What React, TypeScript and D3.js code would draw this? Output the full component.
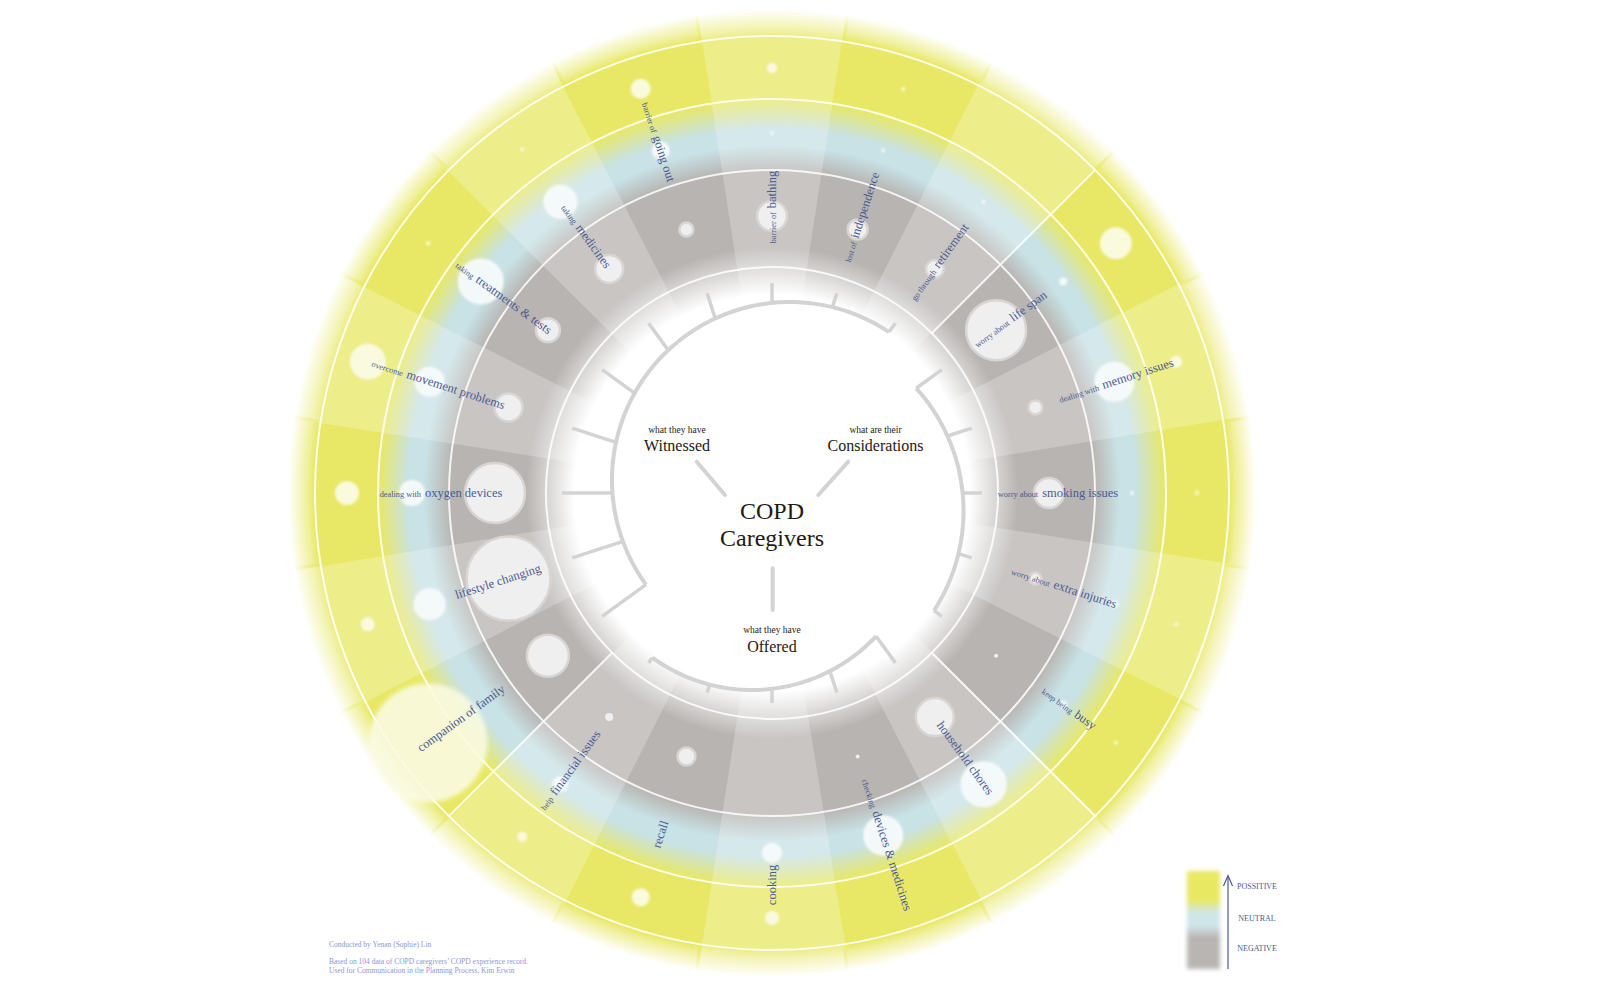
import React from 'react';
import * as d3 from 'd3';

// ---------- DATA ----------
const TOPICS = ['bathing', 'independence', 'retirement', 'life span', 'memory issues', 'smoking issues', 'extra injuries', 'busy', 'household chores', 'devices & medicines', 'cooking', 'recall', 'financial issues', 'companion of family', 'lifestyle changing', 'oxygen devices', 'movement problems', 'treatments & tests', 'medicines', 'going out'];
const PREFIXES = ['barrier of', 'lost of', 'go through', 'worry about', 'dealing with', 'worry about', 'worry about', 'keep being', '', 'checking', '', '', 'help', '', '', 'dealing with', 'overcome', 'taking', 'taking', 'barrier of'];
const NEGATIVE = [7.5, 5, 4.5, 15, 3.5, 7.5, 3, 1, 9.5, 1, 0, 4.5, 2, 10.5, 21, 15, 7, 6, 7, 3.5];
const NEUTRAL = [1, 1, 1, 2, 9.5, 1, 2, 2, 11, 9.5, 4.5, 0, 3.5, 0, 7.5, 6, 7, 11, 8, 4];
const POSITIVE = [2.5, 1, 0, 8, 3, 1, 1, 1, 0, 1, 3.5, 4.5, 2.5, 29, 3.5, 6, 9, 1, 1, 5];
const SENTIMENTS = ['POSSITIVE', 'NEUTRAL', 'NEGATIVE'];
const GROUP_NAMES = ['Witnessed', 'Considerations', 'Offered'];
const GROUP_LEADS = ['what they have', 'what are their', 'what they have'];
const GROUP_FIRST = [13, 3, 8];
const GROUP_LAST = [2, 7, 12];
const TITLE = ['COPD', 'Caregivers'];
const CREDITS = [
  'Conducted by Yenan (Sophie) Lin',
  'Based on 104 data of COPD caregivers\u2019 COPD experience record.',
  'Used for Communication in the Planning Process, Kim Erwin',
];

// ---------- LAYOUT / STYLE ----------
const W = 1600, H = 1002, CX = 772, CY = 493;
const RING_LINES = [226, 323, 394, 457];
const BAND_R = { neg: 277, neu: 360, pos: 425 };
const OUTER = 492;
const LABEL_R = [286, 290, 285, 295, 362, 286, 307, 367, 328, 370, 392, 359, 343, 384, 288, 331, 351, 332, 317, 369];
const GROUP_ARC = [
  { dx: 18, dy: -13, r: 178 },
  { dx: 8.5, dy: 18, r: 183 },
  { dx: -20, dy: 27, r: 170 },
];
const GROUP_TEXT = [
  { x: -95, y: -42 },
  { x: 103.5, y: -42 },
  { x: 0, y: 158.7 },
];
const CONNECTORS = [
  [[-75.3, -31.3], [-47, 2]],
  [[76.3, -31.3], [46.3, 2]],
  [[0.7, 75.3], [0.7, 117]],
];
const SEPARATORS = [45, 135, 225];
const FONT = '"Liberation Serif", "DejaVu Serif", serif';
const LABEL_COLOR = '#4a5a92';
const DARK = '#231815';

const PALETTE = {
  light: { gray: '#c8c5c3', blue: '#d5e8eb', yellow: '#eded8a' },
  dark: { gray: '#b8b4b1', blue: '#c8e2e5', yellow: '#e8e866' },
};

const N = TOPICS.length;
const angleScale = d3.scaleLinear().domain([0, N]).range([0, 360]);
const sizeScale = d3.scaleLinear().domain([0, 29]).range([0, 58]);
const rad = (deg: number) => (deg * Math.PI) / 180;
const polar = (deg: number, r: number): [number, number] => [CX + r * Math.sin(rad(deg)), CY - r * Math.cos(rad(deg))];

function arcRadius(deg: number, g: { dx: number; dy: number; r: number }) {
  const ux = Math.sin(rad(deg)), uy = -Math.cos(rad(deg));
  const b = ux * g.dx + uy * g.dy;
  return b + Math.sqrt(b * b - (g.dx * g.dx + g.dy * g.dy) + g.r * g.r);
}

function gradStops(c: { gray: string; blue: string; yellow: string }) {
  const s: [number, string, number][] = [
    [0, '#ffffff', 1], [198, '#ffffff', 1], [246, c.gray, 1], [322, c.gray, 1],
    [348, c.blue, 1], [364, c.blue, 1], [394, c.yellow, 1], [458, c.yellow, 1],
    [465, c.yellow, 0.65], [484, c.yellow, 0],
  ];
  return s.map(([r, col, op], i) => <stop key={i} offset={r / OUTER} stopColor={col} stopOpacity={op} />);
}

export default function App() {
  const sectorArc = d3.arc<any>();
  const half = angleScale(1) / 2;
  const line = d3.line<[number, number]>();

  const sectors = TOPICS.map((t, i) => {
    const th = angleScale(i);
    const d = sectorArc({ innerRadius: 0, outerRadius: OUTER, startAngle: rad(th - half - 0.2), endAngle: rad(th + half + 0.2) }) as string;
    return <path key={t} d={d} fill={`url(#grad-${i % 2 === 0 ? 'light' : 'dark'})`} />;
  });

  const bubbles: React.ReactNode[] = [];
  TOPICS.forEach((t, i) => {
    const th = angleScale(i);
    const pos = POSITIVE[i], neu = NEUTRAL[i], neg = NEGATIVE[i];
    if (pos > 0) {
      const [x, y] = polar(th, BAND_R.pos);
      const r = sizeScale(pos);
      bubbles.push(<circle key={'p' + i} cx={x} cy={y} r={r} fill="#fbfbe4" fillOpacity={r > 30 ? 0.88 : 0.95}
        stroke={r > 30 ? '#fdfdf0' : 'none'} strokeWidth={3} strokeOpacity={0.6} filter={r > 30 ? 'url(#blurBig)' : 'url(#blurSmall)'} />);
    }
    if (neu > 0) {
      const [x, y] = polar(th, BAND_R.neu);
      const r = sizeScale(neu);
      bubbles.push(<circle key={'u' + i} cx={x} cy={y} r={r} fill="#f5fafb" fillOpacity={0.95} stroke="#ffffff" strokeOpacity={0.5} strokeWidth={r > 6 ? 3 : 0} filter="url(#blurSmall)" />);
    }
    if (neg > 0) {
      const [x, y] = polar(th, BAND_R.neg);
      const r = sizeScale(neg);
      bubbles.push(<circle key={'n' + i} cx={x} cy={y} r={r} fill="#f0efef" stroke={r > 4 ? '#d8d5d3' : 'none'} strokeWidth={2.5} />);
    }
  });

  const labels = TOPICS.map((t, i) => {
    const th = angleScale(i);
    const [x, y] = polar(th, LABEL_R[i]);
    const rot = th < 180 ? th - 90 : th + 90;
    return (
      <text key={'l' + i} transform={`translate(${x},${y}) rotate(${rot})`} y={3.5} textAnchor="middle" fill={LABEL_COLOR} fontFamily={FONT}>
        {PREFIXES[i] ? <tspan fontSize={8.3}>{PREFIXES[i]}</tspan> : null}
        <tspan fontSize={12.5} dx={PREFIXES[i] ? 4 : 0}>{t}</tspan>
      </text>
    );
  });

  const groupMarks = GROUP_NAMES.map((g, gi) => {
    const first = angleScale(GROUP_FIRST[gi]);
    let last = angleScale(GROUP_LAST[gi]);
    if (last < first) last += 360;
    const pts: [number, number][] = [];
    for (let a = first; a <= last + 0.001; a += 1) pts.push(polar(a, arcRadius(a, GROUP_ARC[gi])));
    const ticks: React.ReactNode[] = [];
    for (let a = first; a <= last + 0.001; a += angleScale(1)) {
      const r0 = arcRadius(a, GROUP_ARC[gi]);
      const [x0, y0] = polar(a, r0);
      const [x1, y1] = polar(a, 210);
      ticks.push(<line key={a} x1={x0} y1={y0} x2={x1} y2={y1} stroke="#d3d3d3" strokeWidth={3.5} />);
    }
    return (
      <g key={g}>
        <path d={line(pts) as string} fill="none" stroke="#d3d3d3" strokeWidth={4} strokeLinejoin="round" />
        {ticks}
      </g>
    );
  });

  return (
    <svg width={W} height={H} viewBox={`0 0 ${W} ${H}`} style={{ position: 'absolute', left: 0, top: 0, background: '#fff' }}>
      <defs>
        <radialGradient id="grad-light" gradientUnits="userSpaceOnUse" cx={0} cy={0} r={OUTER}>{gradStops(PALETTE.light)}</radialGradient>
        <radialGradient id="grad-dark" gradientUnits="userSpaceOnUse" cx={0} cy={0} r={OUTER}>{gradStops(PALETTE.dark)}</radialGradient>
        <filter id="blurSmall" x="-50%" y="-50%" width="200%" height="200%"><feGaussianBlur stdDeviation={0.9} /></filter>
        <filter id="blurBig" x="-50%" y="-50%" width="200%" height="200%"><feGaussianBlur stdDeviation={2} /></filter>
        <filter id="legendBlur" x="-50%" y="-50%" width="200%" height="200%"><feGaussianBlur stdDeviation={2.2} /></filter>
        <linearGradient id="legendGrad" x1="0" y1="0" x2="0" y2="1">
          <stop offset="0" stopColor="#e8e862" />
          <stop offset="0.3" stopColor="#e8e862" />
          <stop offset="0.42" stopColor="#cfe5e7" />
          <stop offset="0.56" stopColor="#cfe5e7" />
          <stop offset="0.68" stopColor="#b9b5b2" />
          <stop offset="1" stopColor="#b9b5b2" />
        </linearGradient>
      </defs>

      <g transform={`translate(${CX},${CY})`}>{sectors}</g>

      {RING_LINES.map((r) => (
        <circle key={r} cx={CX} cy={CY} r={r} fill="none" stroke="#ffffff" strokeWidth={2} strokeOpacity={0.85} />
      ))}
      {SEPARATORS.map((a) => {
        const [x0, y0] = polar(a, RING_LINES[0]);
        const [x1, y1] = polar(a, RING_LINES[3]);
        return <line key={a} x1={x0} y1={y0} x2={x1} y2={y1} stroke="#ffffff" strokeWidth={2} strokeOpacity={0.85} />;
      })}

      {bubbles}
      {groupMarks}
      {labels}

      {CONNECTORS.map((c, i) => (
        <line key={i} x1={CX + c[0][0]} y1={CY + c[0][1]} x2={CX + c[1][0]} y2={CY + c[1][1]} stroke="#d3d3d3" strokeWidth={4} strokeLinecap="round" />
      ))}

      {GROUP_NAMES.map((g, i) => (
        <g key={g} fontFamily={FONT} fill={DARK} textAnchor="middle">
          <text x={CX + GROUP_TEXT[i].x} y={CY + GROUP_TEXT[i].y - 18.4} fontSize={9.5}>{GROUP_LEADS[i]}</text>
          <text x={CX + GROUP_TEXT[i].x} y={CY + GROUP_TEXT[i].y} fontSize={16}>{g}</text>
        </g>
      ))}

      {TITLE.map((t, i) => (
        <text key={t} x={CX} y={CY + 26 + i * 27} fontSize={24} fontFamily={FONT} fill={DARK} textAnchor="middle">{t}</text>
      ))}

      {/* legend */}
      <rect x={1187} y={871} width={33} height={98} fill="url(#legendGrad)" filter="url(#legendBlur)" />
      <line x1={1228} y1={969} x2={1228} y2={876} stroke={LABEL_COLOR} strokeWidth={1.2} />
      <path d="M1223.5,886 L1228,875.5 L1232.5,886" fill="none" stroke={LABEL_COLOR} strokeWidth={1.2} />
      {SENTIMENTS.map((s, i) => (
        <text key={s} x={1257} y={[888.5, 921, 951][i]} fontSize={8} fontFamily={FONT} fill={LABEL_COLOR} textAnchor="middle">{s}</text>
      ))}

      {CREDITS.map((c, i) => (
        <text key={i} x={329} y={[946.5, 964, 972.5][i]} fontSize={7.5} fontFamily={FONT} fill="#8c96d6">{c}</text>
      ))}
    </svg>
  );
}
